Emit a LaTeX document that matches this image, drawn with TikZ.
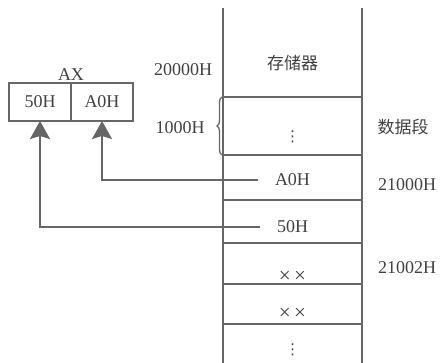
\documentclass[tikz,border=0pt]{standalone}
\usepackage{fontspec}
\setmainfont{Liberation Serif}
\newfontfamily\cjk{Noto Sans CJK SC}
\newfontfamily\sym{DejaVu Sans}
\usetikzlibrary{arrows.meta, positioning, decorations.pathreplacing}

\begin{document}
\begin{tikzpicture}[
  x=1pt, y=1pt,
  font=\fontsize{18}{20}\selectfont,
  every node/.style={text=black!75},
  reg/.style={draw=black!60, line width=1.5pt, minimum width=62pt,
              minimum height=38pt, inner sep=0pt, outer sep=0pt},
  cell/.style={inner sep=1pt},
  dots/.style={inner sep=0pt, font=\sym\fontsize{15}{15}\selectfont},
  xx/.style={inner sep=1pt, font=\fontsize{21}{21}\selectfont},
  wall/.style={draw=black!60, line width=1.3pt},
  ar/.style={-{Stealth[length=18pt, width=20pt, inset=3pt]},
             draw=black!60, line width=1.8pt},
]
\useasboundingbox (0,0) rectangle (440,363);

% memory column
\draw[wall] (223,355) -- (223,0);
\draw[wall] (362,355) -- (362,0);
\foreach \y in {266,208,163,120,79,39}
  \draw[wall] (223,\y) -- (362,\y);

\node[cell] (title) at (292.5,300) {\cjk\fontsize{17}{19}\selectfont 存储器};
\node[dots] (dseg)  at (292.5,226) {⋮};
\node[cell] (cellA) at (292.5,183) {A0H};
\node[cell] (cellB) at (292.5,136) {50H};
\node[xx]   (cellC) at (292.5,86)  {×\,×};
\node[xx]   (cellD) at (292.5,49)  {×\,×};
\node[dots] (rest)  at (292.5,13)  {⋮};

% addresses
\node[cell] (base)  at (183,293) {20000H};
\node[cell] (len)   at (180,235) {1000H};
\node[cell] (segnm) at (403,236) {\cjk\fontsize{17}{19}\selectfont 数据段};
\node[cell] (adrA)  at (407,178) {21000H};
\node[cell] (adrC)  at (407,95)  {21002H};
\draw[draw=black!60, line width=1.3pt,
      decorate, decoration={brace, amplitude=5pt}] (222,208) -- (222,266);

% register AX
\node[reg] (regL) at (40,261) {50H};
\node[reg, right=0pt of regL] (regR) {A0H};
\node[above=1pt of regL.north east, inner sep=1pt] (axlbl) {AX};

\draw[ar] ([xshift=-16pt]cellA.west) -| (regR.south);
\draw[ar] ([xshift=-16pt]cellB.west) -| (regL.south);
\end{tikzpicture}
\end{document}
